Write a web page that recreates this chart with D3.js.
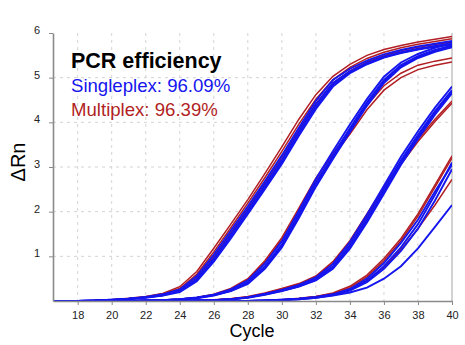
<!DOCTYPE html>
<html>
<head>
<meta charset="utf-8">
<script src="https://cdn.jsdelivr.net/npm/d3@7"></script>
<style>
  body { margin: 0; background: #fff; }
  svg { display: block; font-family: Helvetica, Arial, "Liberation Sans", sans-serif; }
</style>
</head>
<body>
<div id="chart-area"></div>
<script>
// amplification plot, delta Rn per cycle for each replicate
const cycles = [16,17,18,19,20,21,22,23,24,25,26,27,28,29,30,31,32,33,34,35,36,37,38,39,40];
const xTicks = [18,20,22,24,26,28,30,32,34,36,38,40];
const yTicks = [1,2,3,4,5,6];

// singleplex replicates, one row per well, four dilutions
const singleplex = [
  [0,0,0,0.01,0.03,0.05,0.08,0.13,0.23,0.5,0.96,1.5,2.04,2.6,3.17,3.8,4.4,4.88,5.14,5.33,5.47,5.57,5.65,5.71,5.77],
  [0,0,0,0.01,0.02,0.04,0.07,0.12,0.2,0.44,0.88,1.4,1.95,2.5,3.07,3.7,4.3,4.8,5.1,5.3,5.45,5.55,5.63,5.69,5.74],
  [0,0,0,0.01,0.03,0.05,0.09,0.15,0.26,0.56,1.04,1.58,2.12,2.68,3.26,3.88,4.48,4.95,5.2,5.38,5.52,5.62,5.7,5.76,5.82],
  [0,0,0,0.01,0.02,0.05,0.08,0.13,0.22,0.47,0.92,1.45,2.0,2.55,3.12,3.75,4.35,4.84,5.12,5.31,5.46,5.56,5.64,5.7,5.76],

  [0,0,0,0,0,0,0.01,0.02,0.04,0.07,0.13,0.24,0.42,0.78,1.27,1.95,2.65,3.27,3.87,4.45,4.95,5.28,5.48,5.62,5.72],
  [0,0,0,0,0,0,0.01,0.02,0.03,0.06,0.12,0.22,0.38,0.72,1.2,1.86,2.56,3.18,3.78,4.37,4.88,5.23,5.44,5.58,5.68],
  [0,0,0,0,0,0,0.01,0.02,0.04,0.08,0.14,0.26,0.46,0.84,1.34,2.02,2.73,3.35,3.95,4.52,5.02,5.34,5.53,5.67,5.77],
  [0,0,0,0,0,0,0.01,0.02,0.04,0.07,0.13,0.23,0.4,0.75,1.24,1.9,2.6,3.22,3.82,4.41,4.92,5.26,5.46,5.6,5.7],

  [0,0,0,0,0,0,0,0,0,0.01,0.02,0.04,0.08,0.15,0.24,0.34,0.5,0.78,1.25,1.85,2.5,3.15,3.72,4.25,4.72],
  [0,0,0,0,0,0,0,0,0,0.01,0.02,0.04,0.07,0.14,0.22,0.32,0.46,0.72,1.17,1.76,2.4,3.05,3.63,4.17,4.65],
  [0,0,0,0,0,0,0,0,0,0.01,0.02,0.04,0.08,0.16,0.25,0.36,0.53,0.83,1.32,1.93,2.58,3.23,3.8,4.33,4.8],
  [0,0,0,0,0,0,0,0,0,0.01,0.02,0.04,0.08,0.15,0.23,0.33,0.48,0.75,1.21,1.8,2.45,3.1,3.68,4.21,4.69],

  [0,0,0,0,0,0,0,0,0,0,0,0,0,0.01,0.03,0.05,0.08,0.14,0.25,0.45,0.78,1.2,1.72,2.38,3.1],
  [0,0,0,0,0,0,0,0,0,0,0,0,0,0.01,0.03,0.05,0.09,0.15,0.27,0.5,0.85,1.3,1.82,2.45,3.05],
  [0,0,0,0,0,0,0,0,0,0,0,0,0,0.01,0.02,0.04,0.07,0.13,0.23,0.42,0.72,1.12,1.62,2.25,2.95],
  [0,0,0,0,0,0,0,0,0,0,0,0,0,0.01,0.02,0.04,0.07,0.12,0.19,0.3,0.5,0.78,1.18,1.66,2.15]
];

// multiplex replicates, same dilutions
const multiplex = [
  [0,0,0,0.01,0.03,0.06,0.1,0.17,0.32,0.66,1.18,1.72,2.27,2.85,3.45,4.07,4.62,5.03,5.3,5.5,5.63,5.72,5.8,5.86,5.92],
  [0,0,0,0.01,0.03,0.05,0.09,0.16,0.28,0.6,1.1,1.64,2.19,2.76,3.35,3.96,4.52,4.95,5.23,5.43,5.57,5.67,5.75,5.81,5.87],
  [0,0,0,0.01,0.02,0.05,0.08,0.14,0.25,0.53,1.0,1.53,2.08,2.64,3.22,3.83,4.42,4.88,5.15,5.35,5.49,5.6,5.68,5.74,5.8],

  [0,0,0,0,0,0,0.01,0.02,0.04,0.08,0.15,0.28,0.5,0.9,1.42,2.08,2.75,3.3,3.82,4.38,4.82,5.1,5.28,5.37,5.44],
  [0,0,0,0,0,0,0.01,0.02,0.04,0.08,0.14,0.26,0.47,0.86,1.37,2.02,2.68,3.23,3.74,4.28,4.72,5.0,5.18,5.28,5.35],

  [0,0,0,0,0,0,0,0,0,0.01,0.03,0.05,0.1,0.18,0.28,0.39,0.56,0.88,1.35,1.95,2.55,3.12,3.62,4.07,4.48],
  [0,0,0,0,0,0,0,0,0,0.01,0.02,0.05,0.09,0.17,0.27,0.37,0.53,0.84,1.3,1.9,2.5,3.06,3.57,4.02,4.43],

  [0,0,0,0,0,0,0,0,0,0,0,0,0,0.01,0.03,0.06,0.1,0.18,0.33,0.58,0.95,1.4,1.95,2.6,3.25],
  [0,0,0,0,0,0,0,0,0,0,0,0,0,0.01,0.03,0.05,0.1,0.16,0.3,0.54,0.9,1.35,1.9,2.55,3.2],
  [0,0,0,0,0,0,0,0,0,0,0,0,0,0.01,0.02,0.05,0.09,0.14,0.26,0.46,0.76,1.15,1.62,2.15,2.72]
];

const legendLines = ["PCR efficiency", "Singleplex: 96.09%", "Multiplex: 96.39%"];

const blue = "#1515ee";
const red = "#b11f24";
const axisColor = "#8a8a8a";
const gridColor = "#d4d4d4";

const width = 465, height = 345;
const margin = {top: 33, right: 13, bottom: 44, left: 53};

const svg = d3.select("#chart-area").append("svg")
  .attr("width", width)
  .attr("height", height);

const x = d3.scaleLinear()
  .domain([16.55, 40])
  .range([margin.left, width - margin.right]);

const y = d3.scaleLinear()
  .domain([0, 6])
  .range([height - margin.bottom, margin.top]);

// dashed grid
svg.append("g")
  .selectAll("line")
  .data(xTicks.filter(d => d < 40))
  .join("line")
  .attr("x1", d => x(d)).attr("x2", d => x(d))
  .attr("y1", y(6)).attr("y2", y(0))
  .attr("stroke", gridColor)
  .attr("stroke-dasharray", "3,4");

svg.append("g")
  .selectAll("line")
  .data(yTicks.filter(d => d < 6))
  .join("line")
  .attr("x1", x.range()[0]).attr("x2", x.range()[1])
  .attr("y1", d => y(d)).attr("y2", d => y(d))
  .attr("stroke", gridColor)
  .attr("stroke-dasharray", "3,4");

// right border
svg.append("line")
  .attr("x1", x(40)).attr("x2", x(40))
  .attr("y1", y(6)).attr("y2", y(0))
  .attr("stroke", "#b4b4b4")
  .attr("stroke-width", 1.2);

svg.append("clipPath").attr("id", "plot-clip")
  .append("rect")
  .attr("x", x.range()[0]).attr("y", y(6) - 2)
  .attr("width", x.range()[1] - x.range()[0])
  .attr("height", y(0) - y(6) + 2);

const line = d3.line()
  .x((d, i) => x(cycles[i]))
  .y(d => y(d));

const curves = svg.append("g").attr("clip-path", "url(#plot-clip)");

curves.selectAll("path.multi")
  .data(multiplex)
  .join("path")
  .attr("class", "multi")
  .attr("d", line)
  .attr("fill", "none")
  .attr("stroke", red)
  .attr("stroke-width", 1.5);

curves.selectAll("path.single")
  .data(singleplex)
  .join("path")
  .attr("class", "single")
  .attr("d", line)
  .attr("fill", "none")
  .attr("stroke", blue)
  .attr("stroke-width", 1.9);

// axes
const xAxis = svg.append("g")
  .attr("transform", `translate(0,${y(0)})`)
  .call(d3.axisBottom(x).tickValues(xTicks).tickSize(4).tickSizeOuter(0).tickPadding(6));

const yAxis = svg.append("g")
  .attr("transform", `translate(${x.range()[0]},0)`)
  .call(d3.axisLeft(y).tickValues(yTicks).tickFormat(d3.format("d"))
    .tickSize(4).tickSizeOuter(0).tickPadding(9));

[xAxis, yAxis].forEach(g => {
  g.select(".domain").attr("stroke", axisColor).attr("stroke-width", 1.6);
  g.selectAll(".tick line").attr("stroke", axisColor);
  g.selectAll(".tick text")
    .attr("fill", "#222")
    .style("font-size", "11px")
    .style("font-family", "Helvetica, Arial, 'Liberation Sans', sans-serif");
});
yAxis.selectAll(".tick text").attr("dy", "0.05em");

svg.append("text")
  .attr("x", 252)
  .attr("y", 337)
  .attr("text-anchor", "middle")
  .style("font-size", "18px")
  .text("Cycle");

svg.append("text")
  .attr("transform", "translate(25,162) rotate(-90)")
  .attr("text-anchor", "middle")
  .style("font-size", "20px")
  .text("\u0394Rn");

// legend
const legend = svg.append("g").attr("transform", "translate(71,0)");
legend.append("text")
  .attr("y", 68)
  .style("font-size", "21.5px")
  .style("font-weight", "bold")
  .attr("fill", "#000")
  .text(legendLines[0]);
legend.append("text")
  .attr("y", 92)
  .style("font-size", "18.6px")
  .attr("fill", blue)
  .text(legendLines[1]);
legend.append("text")
  .attr("y", 116)
  .style("font-size", "18.6px")
  .attr("fill", red)
  .text(legendLines[2]);
</script>
</body>
</html>
